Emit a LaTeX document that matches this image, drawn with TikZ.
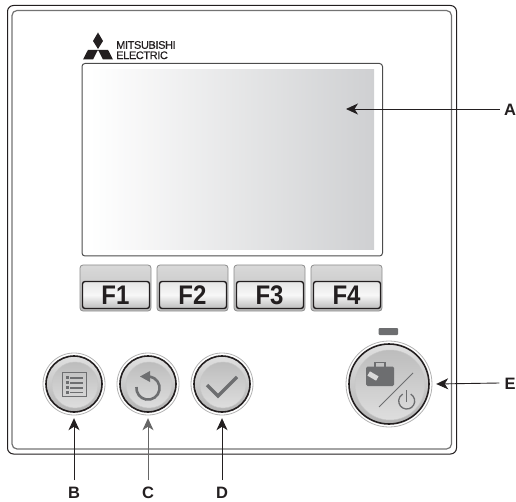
\documentclass[tikz,border=0pt]{standalone}
\usepackage{fontspec}
\setmainfont{Liberation Sans}
\usetikzlibrary{arrows.meta,calc}
\definecolor{ink}{HTML}{231F20}
\definecolor{icon}{HTML}{6D6E70}
\definecolor{lcd}{HTML}{CFD0D2}
\tikzset{
  frame/.style={draw=ink,line width=0.9pt},
  callout/.style={draw=ink,line width=0.9pt,-{Stealth[length=12pt,width=11pt,inset=3.5pt]}},
  letter/.style={font=\fontsize{16.5}{16.5}\selectfont\bfseries,text=ink,inner sep=0pt},
  keylabel/.style={font=\fontsize{24}{24}\selectfont\bfseries,text=ink,inner sep=0pt},
  keycap/.style={draw=black!45,line width=0.8pt,rounded corners=3pt,top color=black!15,bottom color=black!26},
  keyface/.style={draw=ink,line width=1.4pt,rounded corners=2.5pt,top color=black!10,bottom color=black!26,middle color=black!3},
  logotext/.style={font=\fontsize{11}{11}\selectfont,text=ink,inner sep=0pt,anchor=west},
  anchorspot/.style={circle,inner sep=0pt},
}
\newcommand{\fkey}[3]{%
  \path[keycap] (#1,265) rectangle (#1+71,311);
  \path[keyface] (#1+2.5,281.5) rectangle (#1+69.5,308.5);
  \node[keylabel] (#2) at (#1+35.5,295.5) {\scalebox{1}[1.12]{#3}};
}
\newcommand{\roundbtn}[4]{% x, r, name, spot radius
  \draw[black!30,line width=0.8pt,fill=white] (#1,384) circle ({#2+3});
  \shade[top color=black!12,bottom color=black!30] (#1,384) circle (#2);
  \draw[ink,line width=1.6pt] (#1,384) circle (#2);
  \shade[top color=black!26,bottom color=black!13] (#1+1,385) circle ({#2-5});
  \draw[white!78!black,line width=0.5pt] (#1+1,385) circle ({#2-5});
  \node[anchorspot,minimum size=#4*2pt] (#3) at (#1,384) {};
}
\begin{document}
\begin{tikzpicture}[x=1pt,y=-1pt]
\useasboundingbox (0,0) rectangle (516,502);
% case
\draw[frame,line width=1pt] (7.5,5.5) [rounded corners=6pt] rectangle (456.5,454);
\draw[draw=black!55,line width=1.2pt] (12,10.5) [rounded corners=5pt] rectangle (451.5,449);
% logo
\fill[ink] (98,32.5) -- (103,41) -- (98,49) -- (93,41) -- cycle;
\fill[ink] (88,49.8) -- (98,49.8) -- (93,59.5) -- (83,59.5) -- cycle;
\fill[ink] (98,49.8) -- (108,49.8) -- (113,59.5) -- (103,59.5) -- cycle;
\node[logotext] (mit) at (116,45) {\addfontfeature{LetterSpace=-3.5,FakeBold=0.4}MITSUBISHI};
\node[logotext] (ele) at (116,55.3) {\addfontfeature{LetterSpace=-3.5,FakeBold=0.4}ELECTRIC};
% screen
\draw[draw=black!70,line width=1pt] (82,63.5) [rounded corners=3pt] rectangle (382.5,256);
\shade[left color=white,right color=lcd] (90,70) rectangle (374,250);
\coordinate (screenpt) at (346,109);
% F keys
\fkey{80}{fa}{F1}
\fkey{157}{fb}{F2}
\fkey{234}{fc}{F3}
\fkey{311}{fd}{F4}
% round buttons
\roundbtn{74}{28}{btnB}{34}
\roundbtn{148}{28}{btnC}{34}
\roundbtn{222}{28}{btnD}{34}
\roundbtn{389}{40}{btnE}{47}
% menu icon
\draw[icon,line width=1.4pt] (62.5,372.5) rectangle (86.5,396.5);
\foreach \yy in {377.7,382.7,387.7,392.3}{\fill[icon] (70,\yy-0.8) rectangle (83,\yy+0.8);\fill[icon] (65.5,\yy-1.3) rectangle (68.8,\yy+1.3);}
% back icon
\draw[icon,line width=2.6pt] (150,376.6) arc[start angle=-80,end angle=185,radius=11.6];
\fill[icon] (140,376.5) -- (150,371) -- (150,382) -- cycle;
% check icon
\draw[icon,line width=3.2pt] (207,385) -- (218,396) -- (237,377);
% E icons
\fill[icon,rounded corners=1.5pt] (366,366.5) rectangle (394,386);
\draw[icon,line width=1.1pt] (375,367) -- (375,362.5) -- (385,362.5) -- (385,367);
\fill[white!85!black,rotate around={-30:(373,376)}] (368,373.5) rectangle (378,378.5);
\draw[icon,line width=1pt] (379,407) -- (413,373);
\draw[icon,line width=1.3pt] (410.7,394.1) arc[start angle=-60,end angle=240,radius=8];
\draw[icon,line width=1.3pt] (406.7,390) -- (406.7,402);
% LED
\fill[icon,rounded corners=1pt] (378.5,328) rectangle (398,335);
% labels
\node[letter] (lA) at (510,110) {A};
\node[letter] (lB) at (74,493) {B};
\node[letter] (lC) at (148,493) {C};
\node[letter] (lD) at (222,493) {D};
\node[letter] (lE) at (510,384) {E};
\draw[callout] (lA.west) ++(-4,-1) -- (screenpt);
\draw[callout] (lB.north) ++(0,-7) -- (btnB.south);
\draw[callout,draw=black!60] (lC.north) ++(0,-7) -- (btnC.south);
\draw[callout] (lD.north) ++(0,-7) -- (btnD.south);
\draw[callout] (lE.west) ++(-5,-1) -- (btnE.east);
\end{tikzpicture}
\end{document}
